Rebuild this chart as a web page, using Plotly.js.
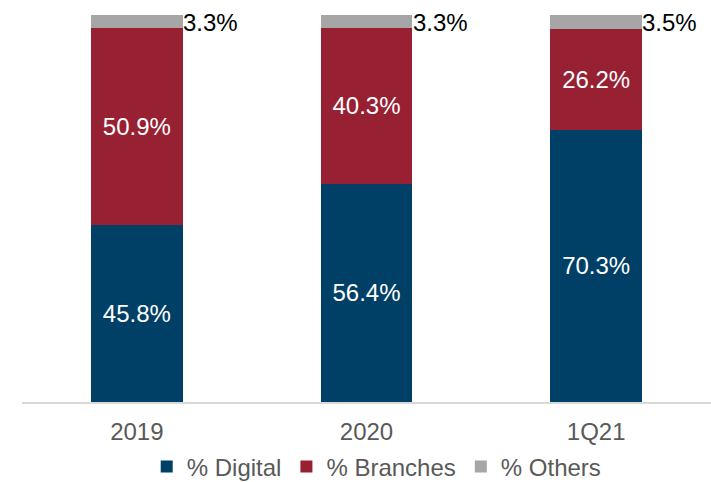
<!DOCTYPE html>
<html><head><meta charset="utf-8">
<script src="https://cdn.plot.ly/plotly-3.0.1.min.js"></script>
<style>html,body{margin:0;padding:0;background:#fff;}#chart{width:711px;height:482px;}</style>
</head><body><div id="chart"></div>
<script>
const categories = ['2019', '2020', '1Q21'];
const digital = [45.8, 56.4, 70.3];
const branches = [50.9, 40.3, 26.2];
const others = [3.3, 3.3, 3.5];
const seriesNames = ['% Digital', '% Branches', '% Others'];
const colors = ['#003F66', '#982033', '#A6A6A6'];

const fmt = v => v.toFixed(1) + '%';
const font = 'Arial, "Liberation Sans", sans-serif';

function barTrace(vals, i, showText) {
  return {
    type: 'bar', x: categories, y: vals, name: seriesNames[i],
    marker: {color: colors[i], line: {width: 0}},
    width: 0.4,
    text: showText ? vals.map(fmt) : undefined,
    textposition: showText ? 'inside' : 'none',
    insidetextanchor: 'middle',
    constraintext: 'none',
    textfont: {color: '#ffffff', size: 24, family: font},
    hoverinfo: 'skip'
  };
}

const data = [barTrace(digital, 0, true), barTrace(branches, 1, true), barTrace(others, 2, false)];

const annotations = categories.map((c, i) => ({
  x: i, y: digital[i] + branches[i] + others[i] / 2,
  xref: 'x', yref: 'y',
  text: fmt(others[i]), showarrow: false,
  xanchor: 'left', yanchor: 'middle', xshift: 44, yshift: -1,
  font: {color: '#000000', size: 24, family: font}
}));

const layout = {
  width: 711, height: 482,
  margin: {l: 22, r: 0, t: 15, b: 80, autoexpand: false},
  barmode: 'stack',
  paper_bgcolor: '#ffffff', plot_bgcolor: '#ffffff',
  font: {family: font, color: '#595959', size: 24},
  xaxis: {
    type: 'category', range: [-0.5, 2.5],
    showline: true, linecolor: '#D9D9D9', linewidth: 1.5,
    ticks: '', showgrid: false, zeroline: false,
    tickfont: {size: 24, color: '#595959', family: font},
    ticklabelstandoff: 8
  },
  yaxis: {range: [0, 100], visible: false, showgrid: false, zeroline: false, fixedrange: true},
  showlegend: true,
  legend: {
    orientation: 'h', x: 0.181, xanchor: 'left', y: -0.168, yanchor: 'middle',
    font: {size: 24, color: '#595959', family: font},
    traceorder: 'normal', itemclick: false
  },
  annotations: annotations
};

Plotly.newPlot('chart', data, layout, {displayModeBar: false, staticPlot: true});
</script></body></html>
